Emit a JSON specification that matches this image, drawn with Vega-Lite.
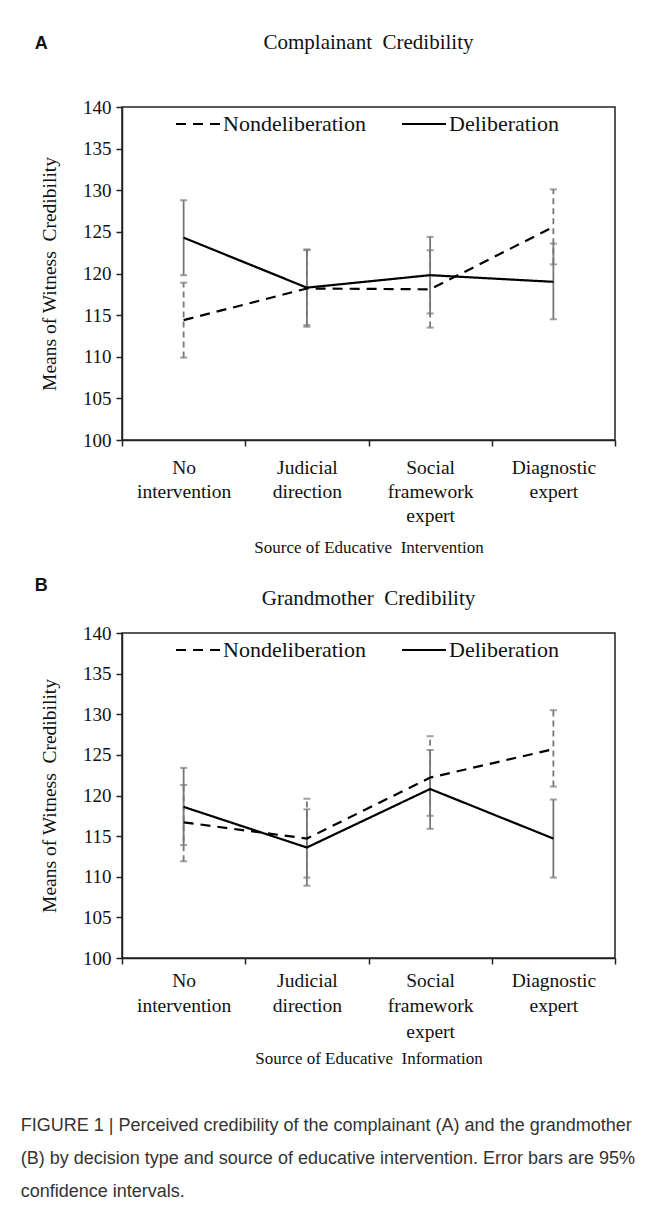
{
  "$schema": "https://vega.github.io/schema/vega-lite/v6.json",
  "background": "white",
  "padding": {"left": 20, "top": 31, "right": 5, "bottom": 10},
  "datasets": {
    "cred": [
      {"panel": "A", "source": "No intervention", "condition": "Nondeliberation", "mean": 114.4, "lo": 109.9, "hi": 118.9},
      {"panel": "A", "source": "Judicial direction", "condition": "Nondeliberation", "mean": 118.2, "lo": 113.6, "hi": 122.8},
      {"panel": "A", "source": "Social framework expert", "condition": "Nondeliberation", "mean": 118.1, "lo": 113.5, "hi": 122.8},
      {"panel": "A", "source": "Diagnostic expert", "condition": "Nondeliberation", "mean": 125.6, "lo": 121.1, "hi": 130.1},
      {"panel": "A", "source": "No intervention", "condition": "Deliberation", "mean": 124.3, "lo": 119.8, "hi": 128.8},
      {"panel": "A", "source": "Judicial direction", "condition": "Deliberation", "mean": 118.3, "lo": 113.8, "hi": 122.9},
      {"panel": "A", "source": "Social framework expert", "condition": "Deliberation", "mean": 119.8, "lo": 115.2, "hi": 124.4},
      {"panel": "A", "source": "Diagnostic expert", "condition": "Deliberation", "mean": 119.0, "lo": 114.5, "hi": 123.6},
      {"panel": "B", "source": "No intervention", "condition": "Nondeliberation", "mean": 116.7, "lo": 111.9, "hi": 121.3},
      {"panel": "B", "source": "Judicial direction", "condition": "Nondeliberation", "mean": 114.7, "lo": 109.9, "hi": 119.6},
      {"panel": "B", "source": "Social framework expert", "condition": "Nondeliberation", "mean": 122.2, "lo": 117.5, "hi": 127.3},
      {"panel": "B", "source": "Diagnostic expert", "condition": "Nondeliberation", "mean": 125.7, "lo": 121.1, "hi": 130.5},
      {"panel": "B", "source": "No intervention", "condition": "Deliberation", "mean": 118.6, "lo": 113.9, "hi": 123.4},
      {"panel": "B", "source": "Judicial direction", "condition": "Deliberation", "mean": 113.6, "lo": 108.9, "hi": 118.3},
      {"panel": "B", "source": "Social framework expert", "condition": "Deliberation", "mean": 120.8, "lo": 115.9, "hi": 125.6},
      {"panel": "B", "source": "Diagnostic expert", "condition": "Deliberation", "mean": 114.7, "lo": 109.9, "hi": 119.5}
    ]
  },
  "title": {
    "text": [
      "FIGURE 1 | Perceived credibility of the complainant (A) and the grandmother",
      "(B) by decision type and source of educative intervention. Error bars are 95%",
      "confidence intervals."
    ],
    "orient": "bottom",
    "anchor": "start",
    "dx": -14,
    "offset": 50,
    "font": "Liberation Sans",
    "fontSize": 18,
    "fontWeight": "normal",
    "color": "#333333",
    "lineHeight": 33
  },
  "spacing": 20,
  "vconcat": [
    {
      "title": {"text": "A", "anchor": "start", "font": "Liberation Sans", "fontWeight": "bold", "fontSize": 18, "color": "#111111", "offset": -22, "dx": -4},
      "vconcat": [
        {
          "width": 493,
          "height": 333,
          "title": {"text": "Complainant\u00a0 Credibility", "font": "Liberation Serif", "fontSize": 21, "fontWeight": "normal", "color": "#111111", "anchor": "middle", "offset": 45},
          "data": {"name": "cred"},
          "transform": [{"filter": "datum.panel === 'A'"}],
          "encoding": {
            "x": {
              "field": "source", "type": "nominal",
              "sort": ["No intervention", "Judicial direction", "Social framework expert", "Diagnostic expert"],
              "scale": {"paddingInner": 0, "paddingOuter": 0},
              "axis": {"title": "Source of Educative\u00a0 Intervention", "labelExpr": "split(datum.label, ' ')", "titlePadding": 15}
            }
          },
          "layer": [
            {
              "mark": {"type": "rule", "color": "#777777", "strokeWidth": 1.8},
              "encoding": {
                "y": {"field": "lo", "type": "quantitative", "scale": {"domain": [100, 140], "nice": false, "zero": false},
                      "axis": {"title": "Means of Witness\u00a0 Credibility", "values": [100, 105, 110, 115, 120, 125, 130, 135, 140]}},
                "y2": {"field": "hi"},
                "strokeDash": {"condition": {"test": "datum.condition === 'Nondeliberation'", "value": [6, 4]}, "value": [1, 0]}
              }
            },
            {
              "mark": {"type": "tick", "color": "#777777", "thickness": 2, "size": 7},
              "encoding": {"y": {"field": "lo", "type": "quantitative", "scale": {"domain": [100, 140], "nice": false, "zero": false},
                      "axis": {"title": "Means of Witness\u00a0 Credibility", "values": [100, 105, 110, 115, 120, 125, 130, 135, 140]}}}
            },
            {
              "mark": {"type": "tick", "color": "#777777", "thickness": 2, "size": 7},
              "encoding": {"y": {"field": "hi", "type": "quantitative", "scale": {"domain": [100, 140], "nice": false, "zero": false},
                      "axis": {"title": "Means of Witness\u00a0 Credibility", "values": [100, 105, 110, 115, 120, 125, 130, 135, 140]}}}
            },
            {
              "mark": {"type": "line", "color": "#000000", "strokeWidth": 2.2},
              "encoding": {
                "y": {"field": "mean", "type": "quantitative", "scale": {"domain": [100, 140], "nice": false, "zero": false},
                      "axis": {"title": "Means of Witness\u00a0 Credibility", "values": [100, 105, 110, 115, 120, 125, 130, 135, 140]}},
                "strokeDash": {"field": "condition", "type": "nominal",
                  "scale": {"domain": ["Nondeliberation", "Deliberation"], "range": [[10, 7], [1, 0]]},
                  "legend": {"title": null}}
              }
            }
          ]
        }
      ]
    },
    {
      "title": {"text": "B", "anchor": "start", "font": "Liberation Sans", "fontWeight": "bold", "fontSize": 18, "color": "#111111", "offset": -8, "dx": -4},
      "vconcat": [
        {
          "width": 493,
          "height": 325,
          "title": {"text": "Grandmother\u00a0 Credibility", "font": "Liberation Serif", "fontSize": 21, "fontWeight": "normal", "color": "#111111", "anchor": "middle", "offset": 15},
          "data": {"name": "cred"},
          "transform": [{"filter": "datum.panel === 'B'"}],
          "encoding": {
            "x": {
              "field": "source", "type": "nominal",
              "sort": ["No intervention", "Judicial direction", "Social framework expert", "Diagnostic expert"],
              "scale": {"paddingInner": 0, "paddingOuter": 0},
              "axis": {"title": "Source of Educative\u00a0 Information", "labelExpr": "split(datum.label, ' ')", "labelPadding": 7, "labelLineHeight": 25.5, "titlePadding": 10}
            }
          },
          "layer": [
            {
              "mark": {"type": "rule", "color": "#777777", "strokeWidth": 1.8},
              "encoding": {
                "y": {"field": "lo", "type": "quantitative", "scale": {"domain": [100, 140], "nice": false, "zero": false},
                      "axis": {"title": "Means of Witness\u00a0 Credibility", "values": [100, 105, 110, 115, 120, 125, 130, 135, 140]}},
                "y2": {"field": "hi"},
                "strokeDash": {"condition": {"test": "datum.condition === 'Nondeliberation'", "value": [6, 4]}, "value": [1, 0]}
              }
            },
            {
              "mark": {"type": "tick", "color": "#777777", "thickness": 2, "size": 7},
              "encoding": {"y": {"field": "lo", "type": "quantitative", "scale": {"domain": [100, 140], "nice": false, "zero": false},
                      "axis": {"title": "Means of Witness\u00a0 Credibility", "values": [100, 105, 110, 115, 120, 125, 130, 135, 140]}}}
            },
            {
              "mark": {"type": "tick", "color": "#777777", "thickness": 2, "size": 7},
              "encoding": {"y": {"field": "hi", "type": "quantitative", "scale": {"domain": [100, 140], "nice": false, "zero": false},
                      "axis": {"title": "Means of Witness\u00a0 Credibility", "values": [100, 105, 110, 115, 120, 125, 130, 135, 140]}}}
            },
            {
              "mark": {"type": "line", "color": "#000000", "strokeWidth": 2.2},
              "encoding": {
                "y": {"field": "mean", "type": "quantitative", "scale": {"domain": [100, 140], "nice": false, "zero": false},
                      "axis": {"title": "Means of Witness\u00a0 Credibility", "values": [100, 105, 110, 115, 120, 125, 130, 135, 140]}},
                "strokeDash": {"field": "condition", "type": "nominal",
                  "scale": {"domain": ["Nondeliberation", "Deliberation"], "range": [[10, 7], [1, 0]]},
                  "legend": {"title": null}}
              }
            }
          ]
        }
      ]
    }
  ],
  "resolve": {"scale": {"strokeDash": "independent"}, "legend": {"strokeDash": "independent"}},
  "config": {
    "font": "Liberation Serif",
    "view": {"stroke": "#222222", "strokeWidth": 1.5},
    "axis": {
      "labelFont": "Liberation Serif", "labelFontSize": 19, "labelColor": "#111111",
      "titleFont": "Liberation Serif", "titleFontSize": 17, "titleFontWeight": "normal", "titleColor": "#111111",
      "domainColor": "#222222", "domainWidth": 1.5, "tickColor": "#222222", "tickWidth": 1.5, "tickSize": 6, "grid": false
    },
    "axisX": {"labelAngle": 0, "labelFontSize": 19.5, "tickBand": "extent", "labelPadding": 12, "labelLineHeight": 24, "titlePadding": 13},
    "axisY": {"labelPadding": 5, "titlePadding": 23, "titleFontSize": 19.5},
    "legend": {
      "orient": "none", "legendX": 53, "legendY": -6, "direction": "horizontal",
      "symbolType": "stroke", "symbolSize": 1936, "symbolStrokeWidth": 2, "symbolStrokeColor": "#000000",
      "labelFont": "Liberation Serif", "labelFontSize": 22, "labelColor": "#111111",
      "columnPadding": 32, "labelOffset": 2
    }
  }
}
